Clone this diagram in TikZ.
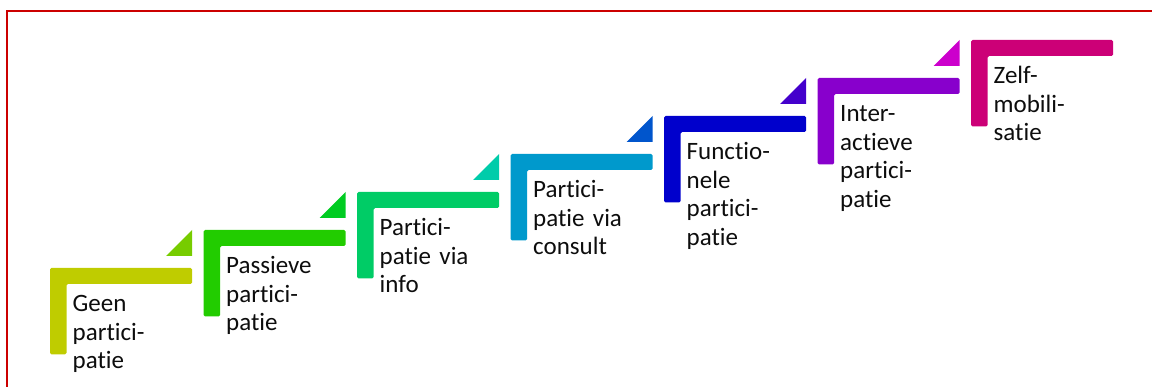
\documentclass[tikz,border=0pt]{standalone}
\usepackage{fontspec}
\setmainfont{Carlito}[RawFeature={-liga;-dlig}]
\definecolor{cS0}{RGB}{191,204,0}
\definecolor{cT0}{RGB}{119,204,0}
\definecolor{cS1}{RGB}{34,204,0}
\definecolor{cT1}{RGB}{0,204,34}
\definecolor{cS2}{RGB}{0,204,102}
\definecolor{cT2}{RGB}{0,204,170}
\definecolor{cS3}{RGB}{0,153,204}
\definecolor{cT3}{RGB}{0,85,204}
\definecolor{cS4}{RGB}{0,0,204}
\definecolor{cT4}{RGB}{68,0,204}
\definecolor{cS5}{RGB}{136,0,204}
\definecolor{cT5}{RGB}{204,0,204}
\definecolor{cS6}{RGB}{204,0,119}
\definecolor{frame}{RGB}{204,0,0}
\tikzset{
  stepshape/.style={fill=#1, draw=none, rounded corners=1.5pt},
  steptri/.style={fill=#1, draw=none},
  steplabel/.style={anchor=base west, inner sep=0pt, text width=140pt, align=left,
    font=\fontsize{25}{28.7}\selectfont, text=black!95},
  frameline/.style={draw=frame, line width=2.5pt}
}
\begin{document}
\begin{tikzpicture}[x=1pt,y=-1pt]
\useasboundingbox (0,0) rectangle (1152,387);
\draw[frameline] (7,390) -- (7,11) -- (1155,11);
\foreach \i/\c/\t/\txt in {
  0/cS0/cT0/{Geen\\partici-\\patie},
  1/cS1/cT1/{Passieve\\partici-\\patie},
  2/cS2/cT2/{Partici-\\patie via\\info},
  3/cS3/cT3/{Partici-\\patie via\\consult},
  4/cS4/cT4/{Functio-\\nele\\partici-\\patie},
  5/cS5/cT5/{Inter-\\actieve\\partici-\\patie},
  6/cS6/none/{Zelf-\\mobili-\\satie}}{
  \pgfmathsetmacro{\xo}{50+153.5*\i}
  \pgfmathsetmacro{\yo}{268-38*\i}
  \pgfmathsetmacro{\yn}{\yo-38}
  \fill[stepshape=\c] (\xo,\yo) -- (\xo+142,\yo) -- (\xo+142,\yo+16) -- (\xo+16.5,\yo+16)
     -- (\xo+16.5,\yo+86.5) -- (\xo,\yo+86.5) -- cycle;
  \ifnum\i<6
    \fill[steptri=\t] (\xo+116,\yn+26) -- (\xo+142,\yn+26) -- (\xo+142,\yn) -- cycle;
  \fi
  \node[steplabel] (t\i) at (\xo+22.5,\yo+43.5) {\txt};
}
\end{tikzpicture}
\end{document}
